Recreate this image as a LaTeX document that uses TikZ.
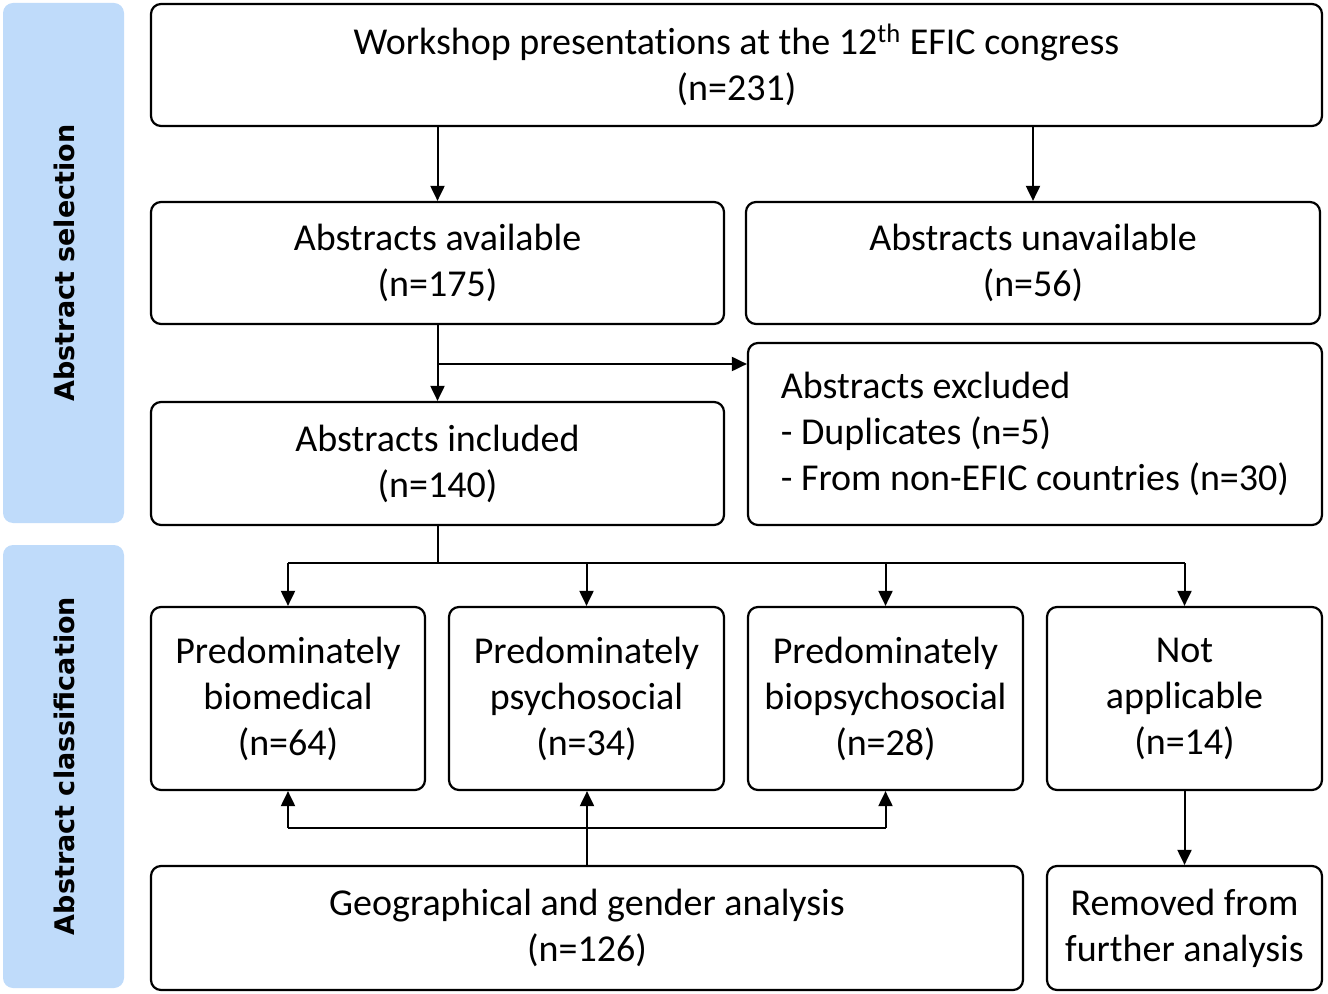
\documentclass[tikz,border=0pt]{standalone}
\usepackage{fontspec}
\setmainfont[Ligatures={NoCommon,NoDiscretionary}]{Carlito}
\newfontfamily\sidefont{DejaVu Sans}
\usetikzlibrary{arrows.meta,calc}
\definecolor{sideblue}{RGB}{191,219,250}
\tikzset{
  box/.style={draw=black, line width=1.1pt, rounded corners=5pt, fill=white,
    align=center, font=\fontsize{19}{23}\selectfont, inner sep=0pt},
  side/.style={fill=sideblue, rounded corners=5pt, inner sep=0pt},
  sidelabel/.style={rotate=90, font=\sidefont\bfseries\fontsize{13.5}{16}\selectfont},
  conn/.style={line width=1pt},
  arr/.style={line width=1pt, -{Triangle[length=7.5pt,width=7pt]}},
}
\begin{document}
\begin{tikzpicture}[x=0.5pt,y=-0.5pt]
\useasboundingbox (0,0) rectangle (1328,994);
% sidebars
\node[side, minimum width=60.5pt, minimum height=260pt] (side1) at (63.5,263) {};
\node[side, minimum width=60.5pt, minimum height=221.5pt] (side2) at (63.5,766.5) {};
\node[sidelabel] (lab1) at (64,263) {Abstract selection};
\node[sidelabel] (lab2) at (64,766) {Abstract classification};
% boxes
\node[box, minimum width=585.5pt, minimum height=61pt] (top) at (736.5,65) {Workshop presentations at the 12\textsuperscript{th} EFIC congress\\(n=231)};
\node[box, minimum width=286.5pt, minimum height=61pt] (avail) at (437.5,263) {Abstracts available\\(n=175)};
\node[box, minimum width=287pt, minimum height=61pt] (unavail) at (1033,263) {Abstracts unavailable\\(n=56)};
\node[box, minimum width=286.5pt, minimum height=61.5pt] (incl) at (437.5,463.5) {Abstracts included\\(n=140)};
\node[box, minimum width=287pt, minimum height=91pt, align=left] (excl) at (1035,434) {Abstracts excluded\\- Duplicates (n=5)\\- From non-EFIC countries (n=30)};
\node[box, minimum width=137pt, minimum height=91.5pt] (b1) at (288,698.5) {Predominately\\biomedical\\(n=64)};
\node[box, minimum width=137.5pt, minimum height=91.5pt] (b2) at (586.5,698.5) {Predominately\\psychosocial\\(n=34)};
\node[box, minimum width=137.5pt, minimum height=91.5pt] (b3) at (885.5,698.5) {Predominately\\biopsychosocial\\(n=28)};
\node[box, minimum width=137.5pt, minimum height=91.5pt] (b4) at (1184.5,698.5) {Not\\applicable\\(n=14)};
\node[box, minimum width=436pt, minimum height=62pt] (geo) at (587,928) {Geographical and gender analysis\\(n=126)};
\node[box, minimum width=137.5pt, minimum height=62pt] (rem) at (1184.5,928) {Removed from\\further analysis};
% connectors
\draw[arr] (top.south -| avail.north) -- (avail.north);
\draw[arr] (top.south -| unavail.north) -- (unavail.north);
\draw[arr] (avail.south) -- (incl.north);
\coordinate (j1) at (437.5,364);
\draw[arr] (j1) -- (j1 -| excl.west);
\coordinate (j2) at (437.5,563);
\draw[conn] (incl.south) -- (j2);
\draw[conn] (b1.north |- j2) -- (b4.north |- j2);
\foreach \b in {b1,b2,b3,b4} \draw[arr] (\b.north |- j2) -- (\b.north);
\coordinate (j3) at (587,828);
\draw[arr] (geo.north) -- (geo.north |- b2.south);
\draw[conn] (b1.south |- j3) -- (b3.south |- j3);
\draw[arr] (b1.south |- j3) -- (b1.south);
\draw[arr] (b3.south |- j3) -- (b3.south);
\draw[arr] (b4.south) -- (rem.north);
\end{tikzpicture}
\end{document}
